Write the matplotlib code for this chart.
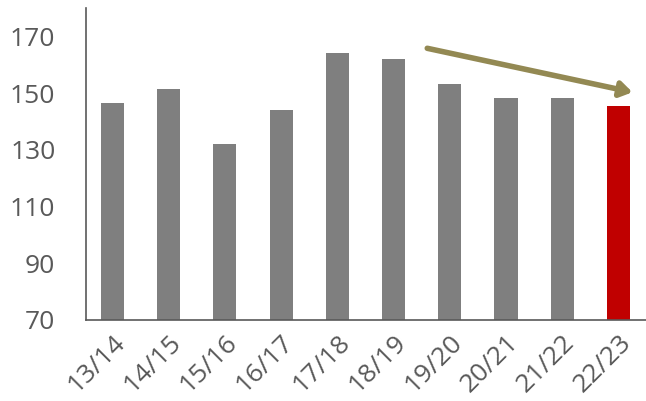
import matplotlib
matplotlib.use("Agg")
import matplotlib.pyplot as plt

seasons = ["13/14", "14/15", "15/16", "16/17", "17/18",
           "18/19", "19/20", "20/21", "21/22", "22/23"]
values = [146.4, 151.4, 132.0, 144.0, 164.2, 162.0, 153.1, 148.4, 148.4, 145.4]
yticks = [70, 90, 110, 130, 150, 170]

GREY = "#7f7f7f"
RED = "#c00000"
TEXT = "#595959"

plt.rcParams["font.family"] = ["Open Sans", "DejaVu Sans"]

fig = plt.figure(figsize=(6.46, 4.01), dpi=100)
ax = fig.add_axes([0.133, 0.202, 0.867, 0.778])

colors = [GREY] * (len(values) - 1) + [RED]
ax.bar(range(len(values)), values, width=0.41, color=colors, bottom=0)

ax.set_ylim(70, 180)
ax.set_xlim(-0.47, 9.49)
ax.set_yticks(yticks)
ax.set_xticks(range(len(seasons)))
ax.set_xticklabels(seasons, rotation=45, ha="right", rotation_mode="anchor")
ax.tick_params(length=0, labelsize=19, colors=TEXT)
ax.tick_params(axis="y", pad=22)
ax.tick_params(axis="x", pad=7)

for side in ("top", "right"):
    ax.spines[side].set_visible(False)
for side in ("left", "bottom"):
    ax.spines[side].set_color(TEXT)
    ax.spines[side].set_linewidth(1.2)

# trend arrow
ax.annotate("", xy=(9.25, 150.3), xytext=(5.6, 165.8),
            arrowprops=dict(arrowstyle="-|>,head_length=0.7,head_width=0.45",
                            color="#938953", lw=4, shrinkA=0, shrinkB=0))

fig.savefig("out.png", dpi=100)
